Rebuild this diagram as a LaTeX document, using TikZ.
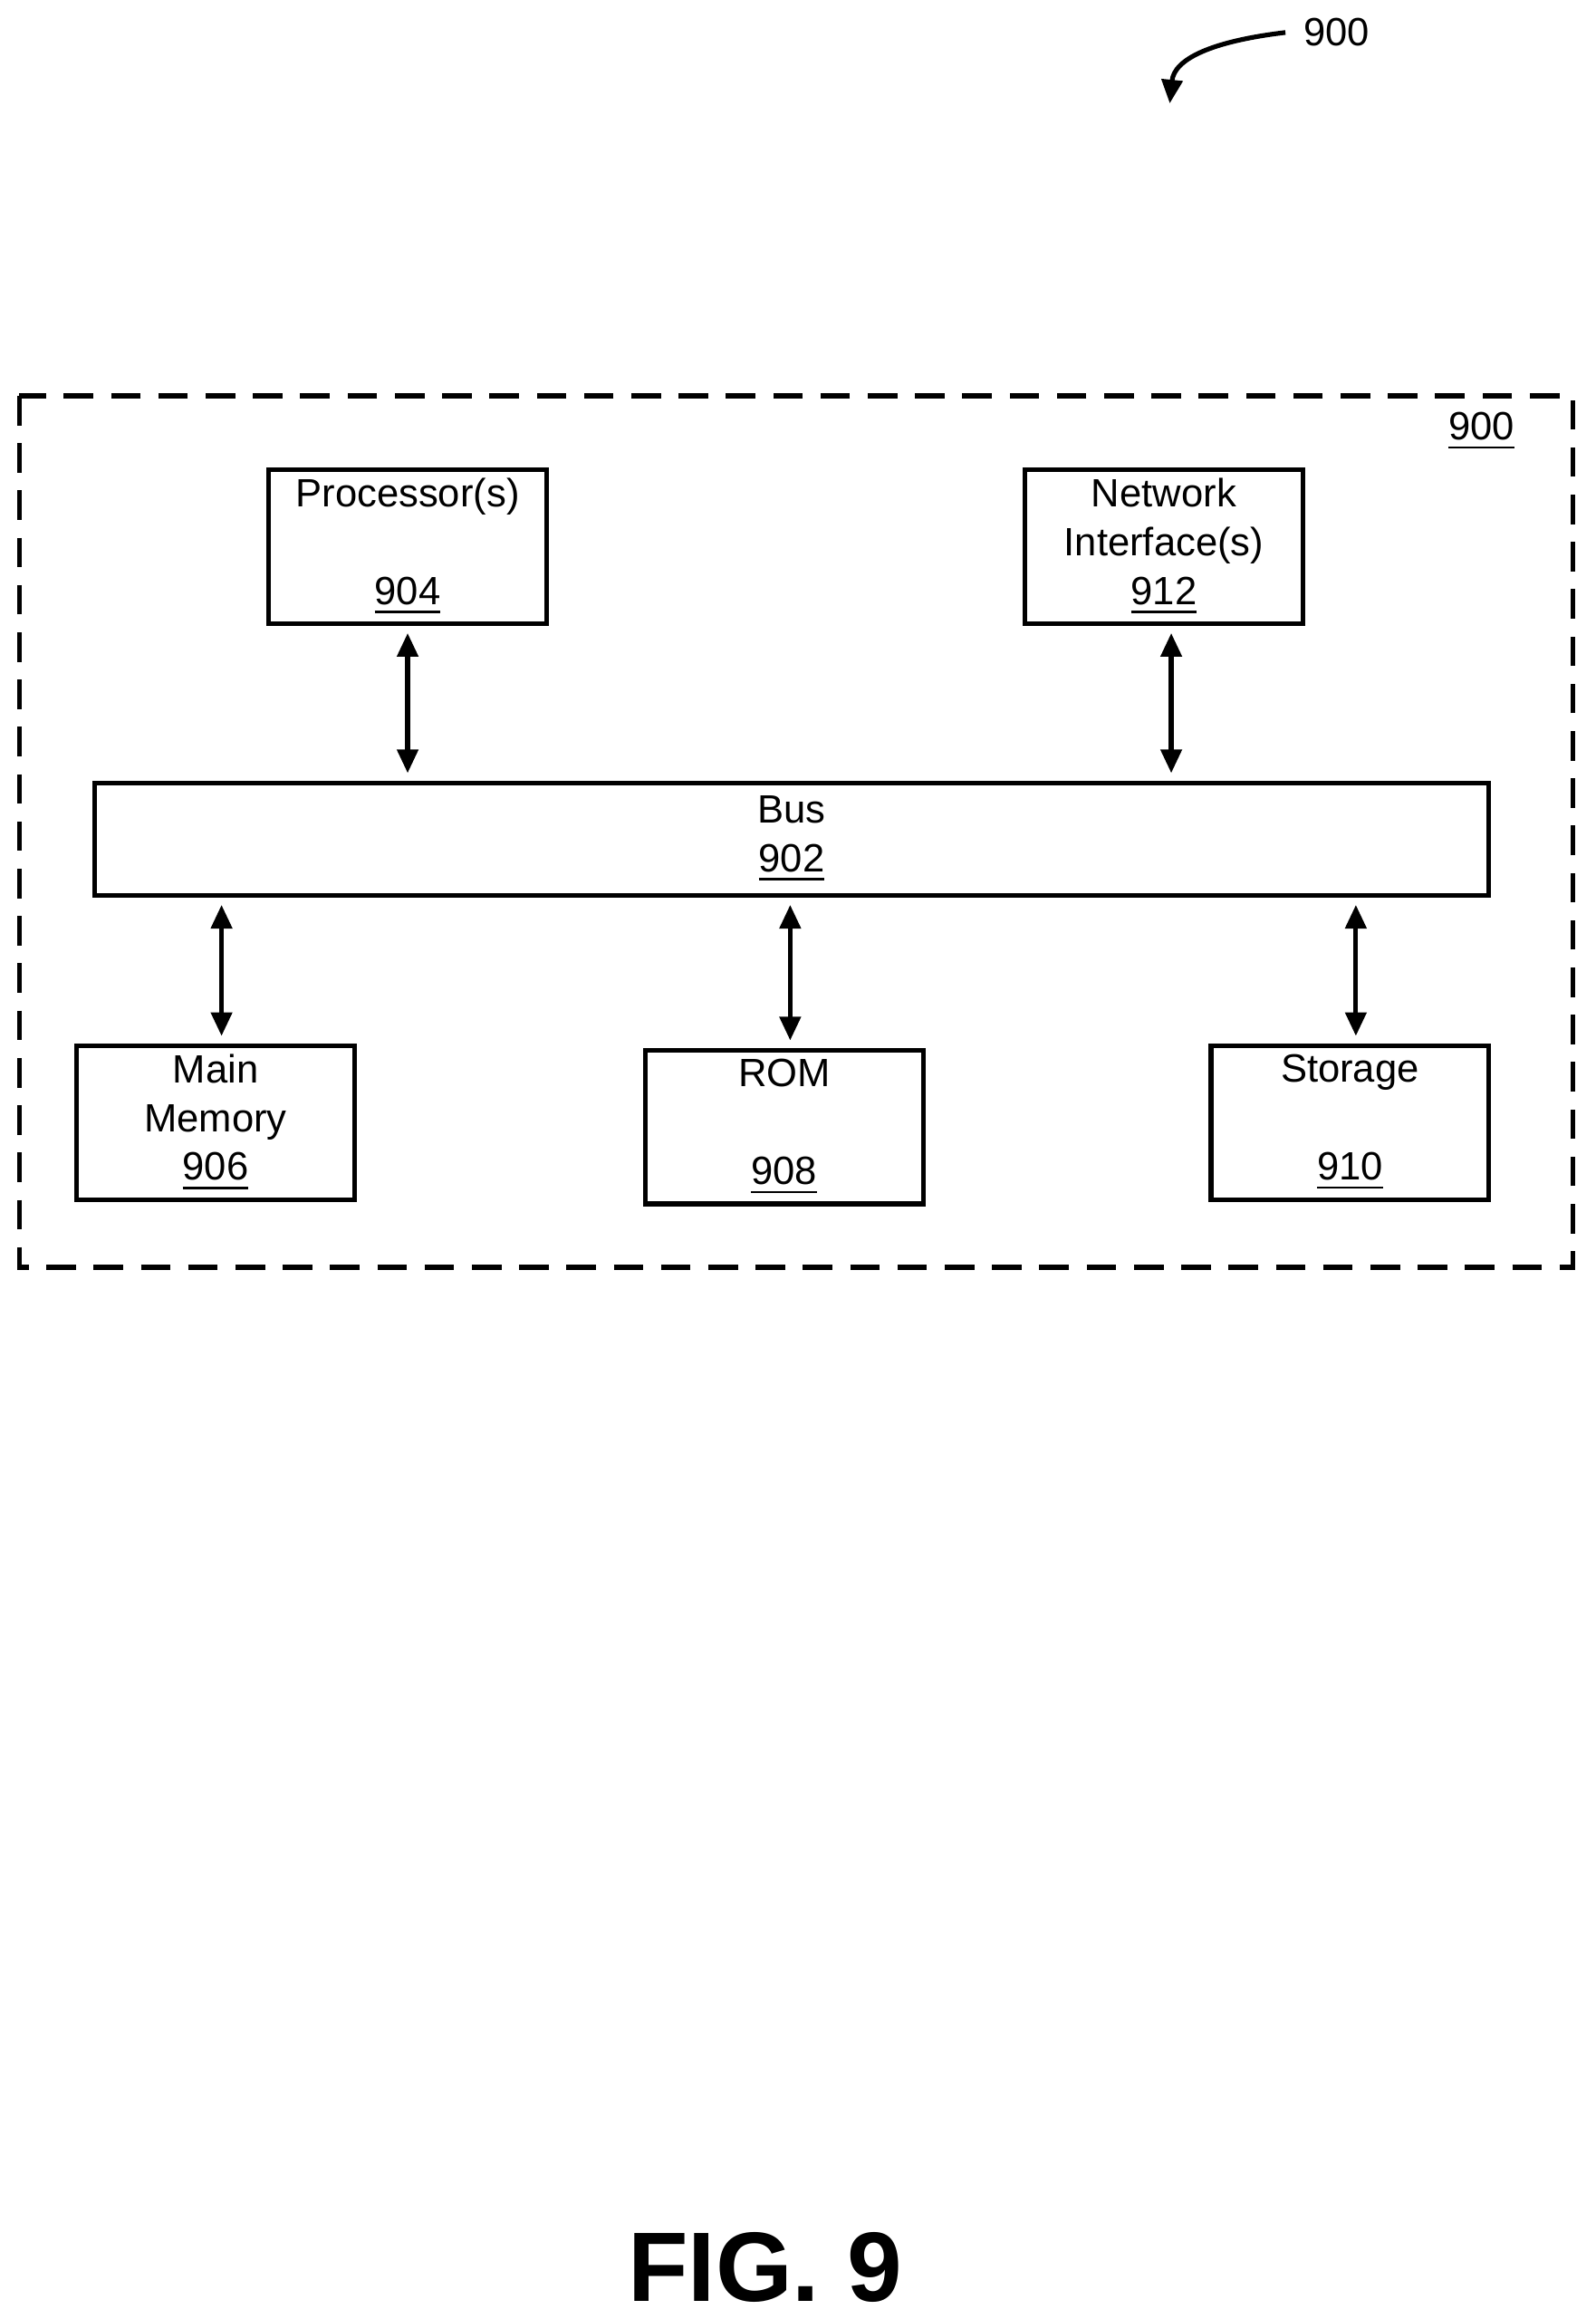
\documentclass[tikz,border=0pt]{standalone}
\usepackage{fontspec}
\setmainfont{Liberation Sans}
\usetikzlibrary{arrows.meta,positioning}
\tikzset{
  unit/.style={draw,line width=0.9pt,minimum width=1.88cm,minimum height=1.04cm,align=center,inner sep=0pt,font=\fontsize{7.6}{9.4}\selectfont},
  link/.style={line width=0.9pt,{Triangle[length=0.16cm,width=0.14cm]}-{Triangle[length=0.16cm,width=0.14cm]},shorten >=0.05cm,shorten <=0.05cm}
}
\begin{document}
\begin{tikzpicture}[x=0.01cm,y=-0.01cm]
	\useasboundingbox (0,0) rectangle (1080,1570);

	% outer frame
	\draw[line width=0.9pt,dash pattern=on 0.2cm off 0.12cm] (13,268) rectangle (1065,858);
	\node[font=\fontsize{7.6}{9.4}\selectfont] (ref) at (1003,292) {\underline{900}};

	% units
	\node[unit] (proc) at (276,370) {Processor(s)\\ \\ \underline{904}};
	\node[unit] (net) at (788,370) {Network\\Interface(s)\\ \underline{912}};
	\node[unit,minimum width=9.43cm,minimum height=0.76cm] (bus) at (536,568) {Bus\\ \underline{902}};
	\node[unit] (mem) at (146,760) {Main\\Memory\\ \underline{906}};
	\node[unit] (rom) at (531,763) {ROM\\ \\ \underline{908}};
	\node[unit] (sto) at (914,760) {Storage\\ \\ \underline{910}};

	% links
	\draw[link] (proc.south) -- (proc.south |- bus.north);
	\draw[link] ([xshift=0.05cm]net.south) -- ([xshift=0.05cm]net.south |- bus.north);
	\draw[link] ([xshift=0.04cm]mem.north |- bus.south) -- ([xshift=0.04cm]mem.north);
	\draw[link] ([xshift=0.04cm]rom.north |- bus.south) -- ([xshift=0.04cm]rom.north);
	\draw[link] ([xshift=0.04cm]sto.north |- bus.south) -- ([xshift=0.04cm]sto.north);

	% figure reference
	\node[font=\fontsize{7.6}{9.4}\selectfont] (num) at (905,22) {900};
	\draw[line width=0.9pt,-{Triangle[length=0.16cm,width=0.14cm]}] (num.west) .. controls (820,28) and (795,40) .. (792,70);
	\node[font=\bfseries\fontsize{19}{22}\selectfont] (fig) at (518,1535) {FIG. 9};
\end{tikzpicture}
\end{document}
